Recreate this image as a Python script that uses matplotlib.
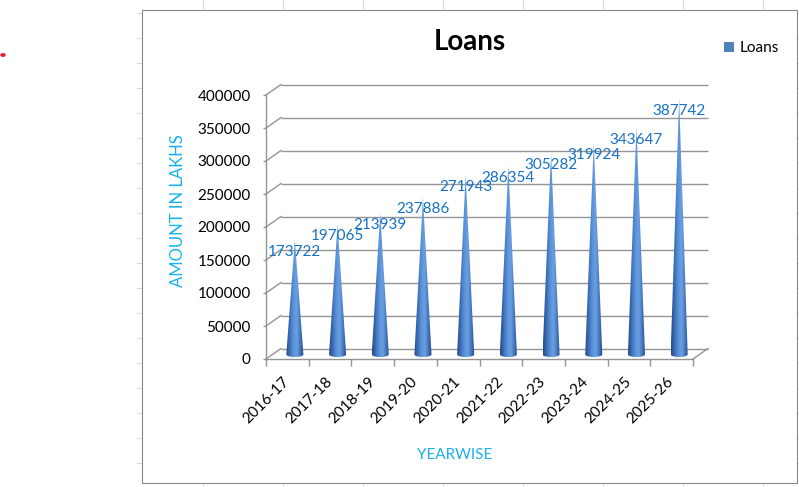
import matplotlib
matplotlib.use("Agg")
import matplotlib.pyplot as plt
import numpy as np
from matplotlib.colors import LinearSegmentedColormap
from matplotlib.lines import Line2D
from matplotlib.patches import Circle, Patch, PathPatch, Rectangle
from matplotlib.path import Path
from matplotlib.transforms import IdentityTransform, offset_copy

plt.rcParams["font.family"] = ["Lato", "DejaVu Sans"]

# --- data -------------------------------------------------------------------
years = ["2016-17", "2017-18", "2018-19", "2019-20", "2020-21",
         "2021-22", "2022-23", "2023-24", "2024-25", "2025-26"]
loans = [173722, 197065, 213939, 237886, 271943,
         286354, 305282, 319924, 343647, 387742]
y_ticks = [0, 50000, 100000, 150000, 200000, 250000, 300000, 350000, 400000]

# --- styling ----------------------------------------------------------------
W, H = 799, 487
GRID = "#949494"
SHEET = "#d6dbe4"
LABEL_BLUE = "#1670c4"
TITLE_BLUE = "#19b2ee"
DEPTH = (15, 10.5)        # back wall offset in pixels
MID = (7.5, 4.5)          # plane where the cones stand

def fx(px):
    return px / W

def fy(py):
    return 1 - py / H


fig = plt.figure(figsize=(W / 100, H / 100), dpi=100)

# spreadsheet grid peeking out around the chart
for x in range(203, W, 80):
    fig.add_artist(Line2D([fx(x)] * 2, [0, 1], color=SHEET, lw=0.8, zorder=-3))
for y in range(13, H, 25):
    fig.add_artist(Line2D([fx(137), 1], [fy(y)] * 2, color=SHEET, lw=0.8, zorder=-3))
fig.add_artist(Rectangle((fx(142), fy(483)), fx(797) - fx(142), fy(10) - fy(483),
                         facecolor="white", edgecolor="#888888", lw=0.8, zorder=-2))
fig.add_artist(Circle((fx(3), fy(55)), 0.0025, color="#e8202a", zorder=-1))

# --- plot area (front plane) -----------------------------------------------
ax = fig.add_axes([fx(266), fy(359), fx(693) - fx(266), fy(95) - fy(359)])
ax.patch.set_visible(False)
ax.set_xlim(-0.5, len(years) - 0.5)
ax.set_ylim(0, 400000)

back = offset_copy(ax.transData, fig=fig, x=DEPTH[0], y=DEPTH[1], units="dots")
mid = offset_copy(ax.transData, fig=fig, x=MID[0], y=MID[1], units="dots")

# back wall gridlines + side-wall diagonals
ax.hlines(y_ticks, -0.5, len(years) - 0.5, transform=back, color=GRID, lw=1.0,
          clip_on=False, zorder=1)
corners = [(-0.5, v) for v in y_ticks] + [(len(years) - 0.5, 0)]
for pt in corners:
    p0 = ax.transData.transform(pt)
    p1 = back.transform(pt)
    ax.add_line(Line2D([p0[0], p1[0]], [p0[1], p1[1]], transform=IdentityTransform(),
                       color=GRID, lw=1.0, clip_on=False, zorder=1))

# cones
cone_cmap = LinearSegmentedColormap.from_list(
    "cone", ["#264c88", "#3a6db4", "#5a91d8", "#6aa0e2", "#4375bb", "#22457f"])
grad = np.linspace(0, 1, 64).reshape(1, -1)
px_per_unit = ax.bbox.height / 400000
half_w = 0.2
ell_h = 2.5 / px_per_unit
t = np.linspace(0, np.pi, 40)
for i, v in enumerate(loans):
    xs = np.concatenate([[i - half_w, i, i + half_w], i + half_w * np.cos(t)])
    ys = np.concatenate([[0, v, 0], -ell_h * np.sin(t)])
    patch = PathPatch(Path(np.column_stack([xs, ys]), closed=False), transform=mid,
                      facecolor="none", edgecolor="none")
    ax.add_patch(patch)
    im = ax.imshow(grad, cmap=cone_cmap, extent=(i - half_w, i + half_w, -ell_h, v),
                   aspect="auto", transform=mid, interpolation="bilinear", zorder=3)
    im.set_clip_path(patch)

# data labels
lab = offset_copy(mid, fig=fig, x=0, y=-12, units="dots")
for i, v in enumerate(loans):
    ax.text(i, v, f"{v}", transform=lab, ha="center", va="center",
            color=LABEL_BLUE, fontsize=11, zorder=5)

ax.set_xlim(-0.5, len(years) - 0.5)
ax.set_ylim(0, 400000)

# axes, ticks
for side in ("top", "right"):
    ax.spines[side].set_visible(False)
for side in ("left", "bottom"):
    ax.spines[side].set_color(GRID)
    ax.spines[side].set_linewidth(1.0)

ax.set_yticks(y_ticks)
ax.set_yticklabels([str(v) for v in y_ticks])
ax.tick_params(axis="y", length=2, width=1, color=GRID, pad=9, labelsize=11)

ax.set_xticks(range(len(years)))
ax.set_xticklabels(years, rotation=45, ha="right", va="center", rotation_mode="anchor")
ax.set_xticks(np.arange(-0.5, len(years)), minor=True)
ax.tick_params(axis="x", which="major", length=0, pad=15, labelsize=11)
ax.tick_params(axis="x", which="minor", length=5, width=1, color=GRID)

# titles
fig.text(fx(470), fy(42), "Loans", ha="center", va="center", fontsize=20,
         fontweight="bold", color="black")
fig.text(fx(178), fy(211), "AMOUNT IN LAKHS", rotation=90, ha="center", va="center",
         fontsize=12, color=TITLE_BLUE)
fig.text(fx(455), fy(455), "YEARWISE", ha="center", va="center", fontsize=11,
         color=TITLE_BLUE)

fig.legend(handles=[Patch(facecolor="#4f81bd", edgecolor="none", label="Loans")],
           loc="center left", bbox_to_anchor=(fx(724), fy(48)), frameon=False,
           handlelength=0.65, handleheight=0.65, handletextpad=0.4, fontsize=11,
           borderpad=0, borderaxespad=0)

fig.savefig("out.png", dpi=100)
